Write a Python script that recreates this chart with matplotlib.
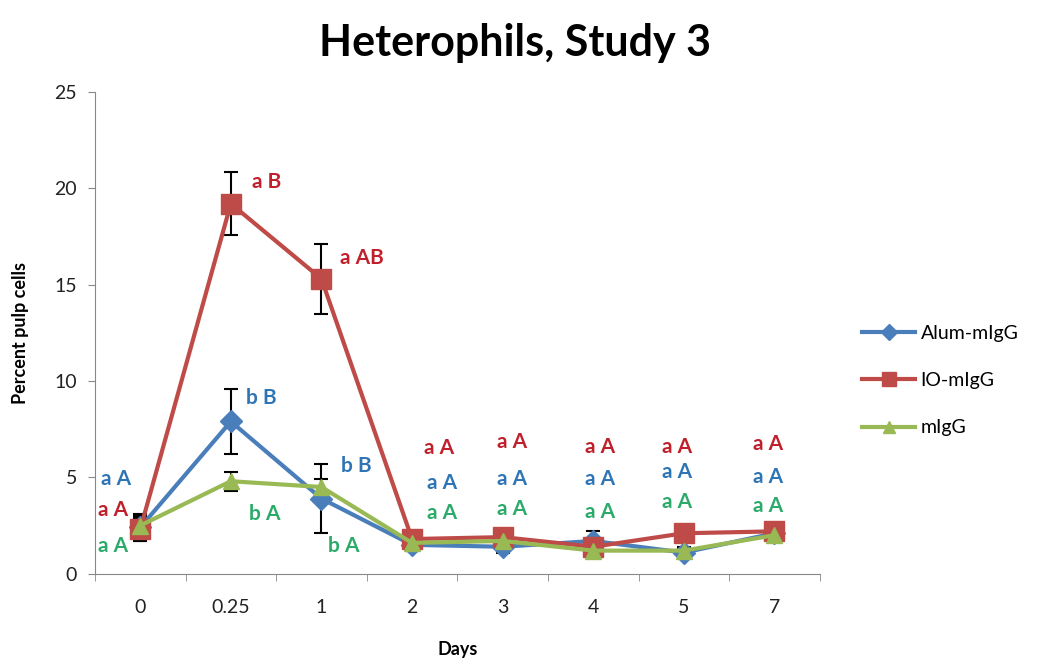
import matplotlib
matplotlib.use('Agg')
import matplotlib.pyplot as plt

days = ['0', '0.25', '1', '2', '3', '4', '5', '7']

alum = [2.4, 7.9, 3.9, 1.5, 1.4, 1.7, 1.1, 2.1]
alum_err = [0.7, 1.7, 1.8, 0.3, 0.3, 0.5, 0.2, 0.4]
io = [2.3, 19.2, 15.3, 1.8, 1.9, 1.4, 2.1, 2.2]
io_err = [0.6, 1.65, 1.8, 0.3, 0.3, 0.3, 0.3, 0.45]
migg = [2.5, 4.8, 4.5, 1.6, 1.7, 1.2, 1.2, 2.0]
migg_err = [0.5, 0.5, 0.4, 0.2, 0.2, 0.3, 0.2, 0.3]

# significance letters: (text, x position, y position)
io_labels = [('a A', -0.3, 3.3), ('a B', 1.4, 20.3), ('a AB', 2.45, 16.4),
             ('a A', 3.3, 6.5), ('a A', 4.1, 6.85), ('a A', 5.07, 6.6),
             ('a A', 5.93, 6.6), ('a A', 6.93, 6.75)]
alum_labels = [('a A', -0.27, 4.9), ('b B', 1.34, 9.1), ('b B', 2.38, 5.6),
               ('a A', 3.33, 4.7), ('a A', 4.1, 4.9), ('a A', 5.07, 4.9),
               ('a A', 5.93, 5.3), ('a A', 6.93, 5.0)]
migg_labels = [('a A', -0.3, 1.45), ('b A', 1.37, 3.1), ('b A', 2.25, 1.45),
               ('a A', 3.33, 3.15), ('a A', 4.1, 3.35), ('a A', 5.07, 3.2),
               ('a A', 5.93, 3.7), ('a A', 6.93, 3.5)]

plt.rcParams['font.family'] = ['Lato', 'DejaVu Sans']

fig = plt.figure(figsize=(10.43, 6.61), dpi=100)
ax = fig.add_axes([0.091, 0.132, 0.695, 0.729])

x = list(range(len(days)))
series = [
    (alum, alum_err, '#4A7EBB', 'D', 11, 'Alum-mIgG'),
    (io, io_err, '#BE4B48', 's', 14, 'IO-mIgG'),
    (migg, migg_err, '#98B954', '^', 12, 'mIgG'),
]
for vals, err, col, mk, ms, name in series:
    ax.errorbar(x, vals, yerr=err, color=col, marker=mk, markersize=ms,
                linewidth=3, ecolor='black', elinewidth=1.5, capsize=5,
                capthick=1.5, label=name)

for labels, col in [(io_labels, '#C0202C'), (alum_labels, '#2E75B6'),
                    (migg_labels, '#2BAA6A')]:
    for txt, tx, ty in labels:
        ax.text(tx, ty, txt, color=col, fontsize=15, fontweight='bold',
                ha='center', va='center')

ax.set_xlim(-0.5, 7.5)
ax.set_ylim(0, 25)
ax.set_yticks([0, 5, 10, 15, 20, 25])
ax.set_xticks(x)
ax.set_xticklabels(days)
ax.set_xticks([i + 0.5 for i in range(-1, 8)], minor=True)
ax.tick_params(axis='x', which='major', length=0, pad=18, labelsize=14,
               labelcolor='#222222')
ax.tick_params(axis='x', which='minor', length=5, color='#888888')
ax.tick_params(axis='y', length=5, color='#888888', labelsize=14,
               labelcolor='#222222', pad=8)
for side in ['top', 'right']:
    ax.spines[side].set_visible(False)
for side in ['left', 'bottom']:
    ax.spines[side].set_color('#888888')

ax.set_xlabel('Days', fontsize=13, fontweight='bold', labelpad=18)
ax.set_ylabel('Percent pulp cells', fontsize=13, fontweight='bold', labelpad=18)
fig.suptitle('Heterophils, Study 3', fontsize=31, fontweight='bold',
             x=0.494, y=0.965)

handles, names = ax.get_legend_handles_labels()
handles = [h[0] for h in handles]
fig.legend(handles, names, loc='center left', bbox_to_anchor=(0.81, 0.424),
           frameon=False, fontsize=14, labelspacing=1.55, handlelength=2.7,
           handletextpad=0.3, markerscale=0.7)

fig.savefig('out.png', dpi=100)
